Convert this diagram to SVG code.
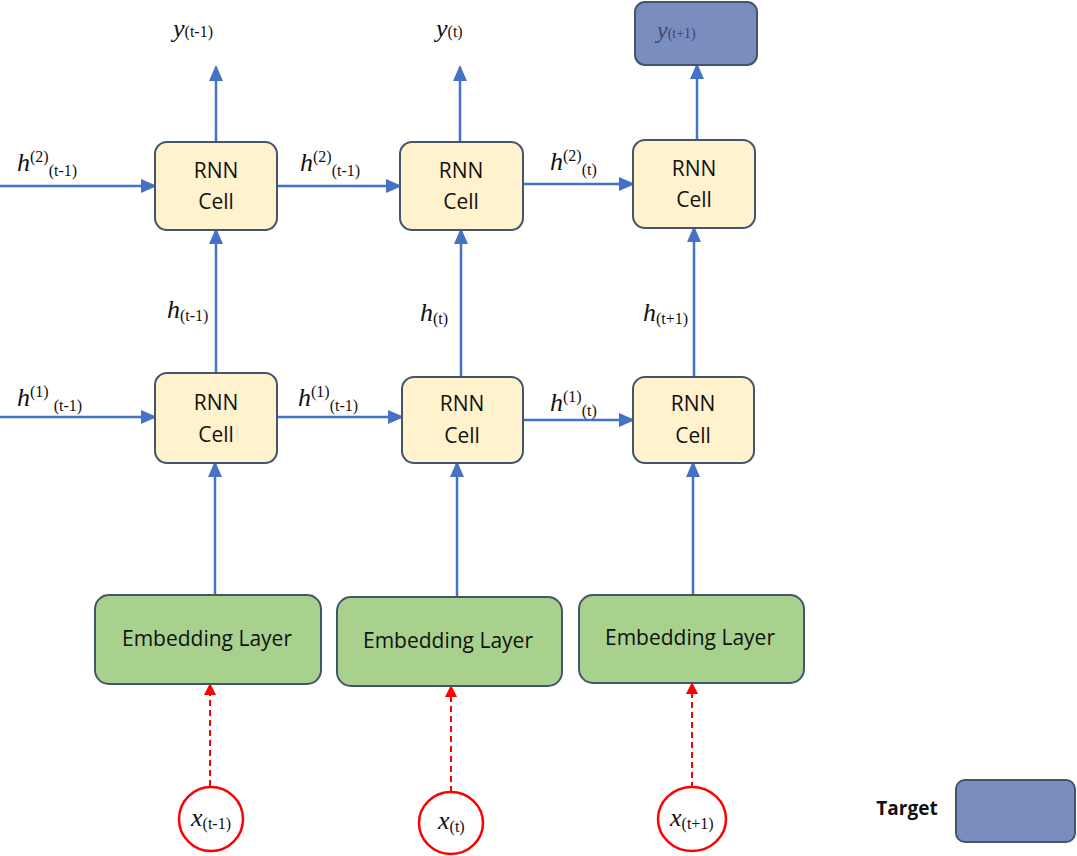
<svg xmlns="http://www.w3.org/2000/svg" width="1077" height="856" viewBox="0 0 1077 856">
<style>
.cell{fill:#FFF2CC;stroke:#44546A;stroke-width:2}
.emb{fill:#A9D18E;stroke:#44546A;stroke-width:2}
.tgt{fill:#7A8DBF;stroke:#44546A;stroke-width:2}
.inp{fill:#FFFFFF;stroke:#FF0000;stroke-width:2.5}
.lbl{font-family:"Open Sans","Liberation Sans",sans-serif;font-size:21px;fill:#111;text-anchor:middle}
.m{font-family:"Liberation Serif",serif;fill:#111}
.mi{font-style:italic;font-size:26px}
.ms{font-size:16px}
.arr{stroke:#4472C4;stroke-width:2.5;fill:none;marker-end:url(#ab)}
.dash{stroke:#FF0000;stroke-width:2;stroke-dasharray:6 4;fill:none;marker-end:url(#ar)}
</style>
<defs>
<marker id="ab" markerUnits="userSpaceOnUse" markerWidth="16" markerHeight="14" refX="14" refY="7" orient="auto"><path d="M0,0 L16,7 L0,14 Z" fill="#4472C4"/></marker>
<marker id="ar" markerUnits="userSpaceOnUse" markerWidth="12" markerHeight="12" refX="11" refY="6" orient="auto"><path d="M0,0 L12,6 L0,12 Z" fill="#FF0000"/></marker>
</defs>
<g id="connectors">
<path class="arr" d="M216,142 V67"/>
<path class="arr" d="M460,142 V67"/>
<path class="arr" d="M697,140 V65"/>
<path class="arr" d="M0,186 H155"/>
<path class="arr" d="M277,186 H400"/>
<path class="arr" d="M523,184 H633"/>
<path class="arr" d="M216,373 V230"/>
<path class="arr" d="M461,377 V230"/>
<path class="arr" d="M694,377 V228"/>
<path class="arr" d="M0,417 H155"/>
<path class="arr" d="M277,417 H402"/>
<path class="arr" d="M523,420 H633"/>
<path class="arr" d="M215,595 V463"/>
<path class="arr" d="M457,597 V463"/>
<path class="arr" d="M693,595 V463"/>
<path class="dash" d="M210,786 V684"/>
<path class="dash" d="M451,792 V686"/>
<path class="dash" d="M692,788 V683"/>
</g>
<g id="target-out">
<rect class="tgt" x="635" y="2" width="122" height="63" rx="10"/>
<text class="m" x="657" y="38" style="fill:#3b4869"><tspan class="mi" style="font-size:24px">y</tspan><tspan class="ms" style="font-size:14px">(t+1)</tspan></text>
</g>
<g id="cell-top-1"><rect class="cell" x="155" y="142" width="122" height="88" rx="12"/><text class="lbl" x="216" y="178">RNN</text><text class="lbl" x="216" y="209">Cell</text></g>
<g id="cell-top-2"><rect class="cell" x="400" y="142" width="123" height="88" rx="12"/><text class="lbl" x="461" y="178">RNN</text><text class="lbl" x="461" y="209">Cell</text></g>
<g id="cell-top-3"><rect class="cell" x="633" y="140" width="122" height="88" rx="12"/><text class="lbl" x="694" y="176">RNN</text><text class="lbl" x="694" y="207">Cell</text></g>
<g id="cell-bot-1"><rect class="cell" x="155" y="373" width="122" height="90" rx="12"/><text class="lbl" x="216" y="410">RNN</text><text class="lbl" x="216" y="442">Cell</text></g>
<g id="cell-bot-2"><rect class="cell" x="402" y="377" width="121" height="86" rx="12"/><text class="lbl" x="462" y="411">RNN</text><text class="lbl" x="462" y="443">Cell</text></g>
<g id="cell-bot-3"><rect class="cell" x="633" y="377" width="121" height="86" rx="12"/><text class="lbl" x="693" y="411">RNN</text><text class="lbl" x="693" y="443">Cell</text></g>
<g id="emb-1"><rect class="emb" x="95" y="595" width="226" height="89" rx="14"/><text class="lbl" x="207" y="646">Embedding Layer</text></g>
<g id="emb-2"><rect class="emb" x="337" y="597" width="225" height="89" rx="14"/><text class="lbl" x="448" y="648">Embedding Layer</text></g>
<g id="emb-3"><rect class="emb" x="579" y="595" width="225" height="88" rx="14"/><text class="lbl" x="690" y="645">Embedding Layer</text></g>
<g id="in-1"><ellipse class="inp" cx="211" cy="819" rx="32" ry="32"/><text class="m" x="191" y="826"><tspan class="mi">x</tspan><tspan class="ms" dy="3">(t-1)</tspan></text></g>
<g id="in-2"><ellipse class="inp" cx="451" cy="823" rx="32" ry="31"/><text class="m" x="438" y="829"><tspan class="mi">x</tspan><tspan class="ms" dy="3">(t)</tspan></text></g>
<g id="in-3"><ellipse class="inp" cx="692" cy="819" rx="34" ry="32"/><text class="m" x="670" y="826"><tspan class="mi">x</tspan><tspan class="ms" dy="3">(t+1)</tspan></text></g>
<g id="legend"><text x="907" y="815" style="font-family:'Open Sans','Liberation Sans',sans-serif;font-size:19px;font-weight:bold;fill:#111;text-anchor:middle">Target</text><rect class="tgt" x="956" y="780" width="119" height="62" rx="9"/></g>
<g id="labels">
<text class="m" x="173" y="37"><tspan class="mi">y</tspan><tspan class="ms">(t-1)</tspan></text>
<text class="m" x="436" y="37"><tspan class="mi">y</tspan><tspan class="ms">(t)</tspan></text>
<text class="m" x="17" y="171"><tspan class="mi">h</tspan><tspan class="ms" dy="-9">(2)</tspan><tspan class="ms" dy="14">(t-1)</tspan></text>
<text class="m" x="300" y="171"><tspan class="mi">h</tspan><tspan class="ms" dy="-9">(2)</tspan><tspan class="ms" dy="14">(t-1)</tspan></text>
<text class="m" x="550" y="170"><tspan class="mi">h</tspan><tspan class="ms" dy="-9">(2)</tspan><tspan class="ms" dy="14">(t)</tspan></text>
<text class="m" x="167" y="318"><tspan class="mi">h</tspan><tspan class="ms" dy="3">(t-1)</tspan></text>
<text class="m" x="420" y="321"><tspan class="mi">h</tspan><tspan class="ms" dy="3">(t)</tspan></text>
<text class="m" x="643" y="321"><tspan class="mi">h</tspan><tspan class="ms" dy="3">(t+1)</tspan></text>
<text class="m" x="17" y="406"><tspan class="mi">h</tspan><tspan class="ms" dy="-9">(1)</tspan><tspan class="ms" dx="5" dy="14">(t-1)</tspan></text>
<text class="m" x="298" y="406"><tspan class="mi">h</tspan><tspan class="ms" dy="-9">(1)</tspan><tspan class="ms" dy="14">(t-1)</tspan></text>
<text class="m" x="550" y="411"><tspan class="mi">h</tspan><tspan class="ms" dy="-9">(1)</tspan><tspan class="ms" dy="14">(t)</tspan></text>
</g>
</svg>
